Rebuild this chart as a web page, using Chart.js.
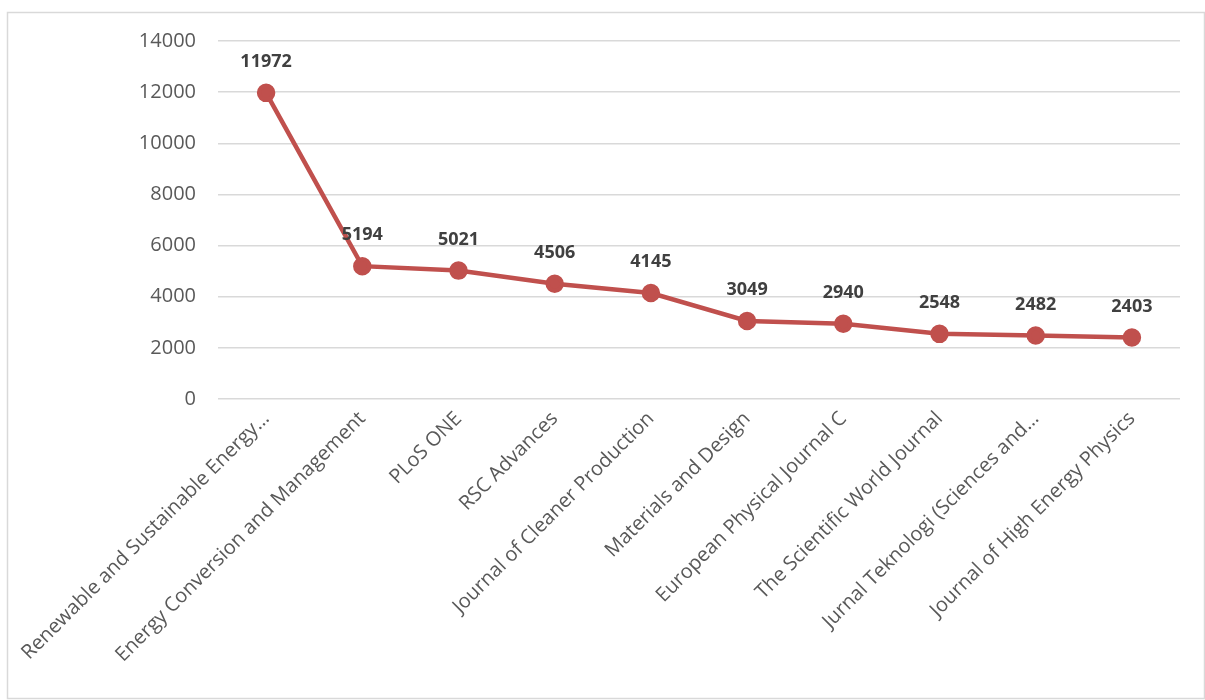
<!DOCTYPE html>
<html>
<head>
<meta charset="utf-8">
<script src="https://cdn.jsdelivr.net/npm/chart.js@4.4.0/dist/chart.umd.min.js"></script>
<style>
  html, body { margin: 0; padding: 0; background: #fff; }
  #wrap { position: absolute; left: 0; top: 0; width: 1205px; height: 700px; }
</style>
</head>
<body>
<div id="wrap"><canvas id="c" width="1205" height="700"></canvas></div>
<script>
const categories = [
  "Renewable and Sustainable Energy…",
  "Energy Conversion and Management",
  "PLoS ONE",
  "RSC Advances",
  "Journal of Cleaner Production",
  "Materials and Design",
  "European Physical Journal C",
  "The Scientific World Journal",
  "Jurnal Teknologi (Sciences and…",
  "Journal of High Energy Physics"
];
const values = [11972, 5194, 5021, 4506, 4145, 3049, 2940, 2548, 2482, 2403];
const yTicks = [0, 2000, 4000, 6000, 8000, 10000, 12000, 14000];

const FONT = "'Open Sans', sans-serif";

const frame = {
  id: 'frame',
  beforeDraw(chart) {
    const ctx = chart.ctx;
    ctx.save();
    ctx.fillStyle = '#fff';
    ctx.fillRect(0, 0, chart.width, chart.height);
    ctx.strokeStyle = '#d9d9d9';
    ctx.lineWidth = 1.5;
    ctx.strokeRect(7.5, 12.5, chart.width - 8, chart.height - 14);
    ctx.restore();
  }
};

const dataLabels = {
  id: 'dataLabels',
  afterDatasetsDraw(chart) {
    const ctx = chart.ctx;
    const meta = chart.getDatasetMeta(0);
    ctx.save();
    ctx.font = "bold 18px " + FONT;
    ctx.fillStyle = '#404040';
    ctx.textAlign = 'center';
    ctx.textBaseline = 'middle';
    meta.data.forEach((pt, i) => {
      ctx.fillText(String(values[i]), pt.x, pt.y - 31);
    });
    ctx.restore();
  }
};

new Chart(document.getElementById('c'), {
  type: 'line',
  data: {
    labels: categories,
    datasets: [{
      data: values,
      borderColor: '#C0504D',
      backgroundColor: '#C0504D',
      borderWidth: 4.5,
      pointRadius: 7,
      pointHoverRadius: 7,
      pointBackgroundColor: '#C0504D',
      pointBorderColor: '#C0504D',
      tension: 0,
      fill: false
    }]
  },
  options: {
    responsive: false,
    animation: false,
    events: [],
    layout: { padding: { left: 0, right: 25, top: 41, bottom: 0 } },
    plugins: { legend: { display: false }, tooltip: { enabled: false } },
    scales: {
      x: {
        offset: true,
        grid: { display: false, drawTicks: false },
        border: { display: false },
        ticks: {
          color: '#595959',
          font: { family: FONT, size: 20 },
          minRotation: 45,
          maxRotation: 45,
          autoSkip: false,
          padding: 8
        },
        afterFit(scale) { scale.height = 301; }
      },
      y: {
        min: 0,
        max: 14000,
        afterBuildTicks(scale) { scale.ticks = yTicks.map(v => ({ value: v })); },
        grid: { color: '#d9d9d9', lineWidth: 1.5, drawTicks: false },
        border: { display: false },
        ticks: {
          color: '#595959',
          font: { family: FONT, size: 20 },
          padding: 22,
          callback: (v) => String(v)
        },
        afterFit(scale) { scale.width = 218; }
      }
    }
  },
  plugins: [frame, dataLabels]
});
</script>
</body>
</html>
